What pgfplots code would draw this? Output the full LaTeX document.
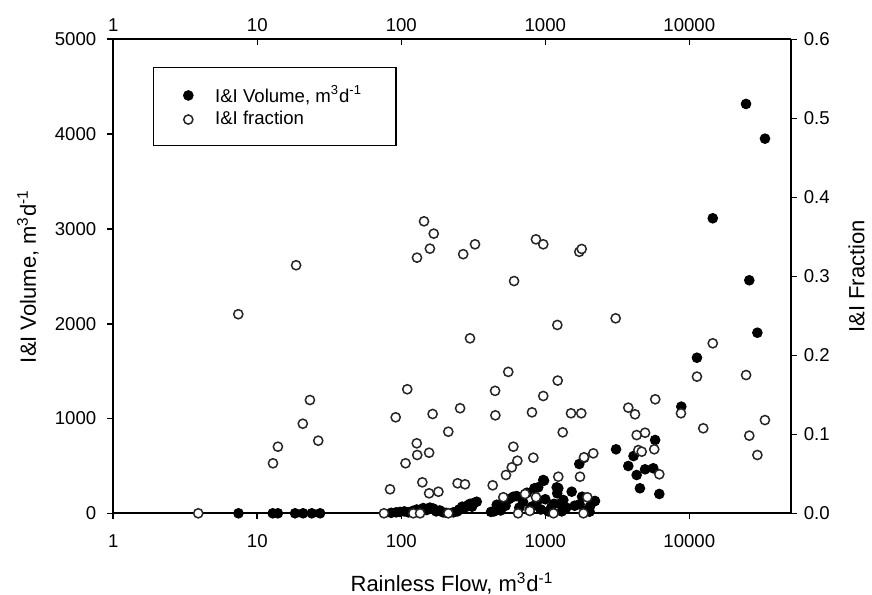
\documentclass[border=0pt]{standalone}
\usepackage{pgfplots}
\pgfplotsset{compat=1.18}
\usepackage{fontspec}
\setmainfont{Liberation Sans}

\pgfplotstableread{
x y
7.4 0
12.8 0
13.9 0
18.3 0
20.8 0
23.9 0
27.3 0
85 5
92 10
98 15
105 20
112 10
120 25
128 40
135 30
142 55
150 35
158 60
167 50
175 20
185 30
195 10
205 5
230 10
245 20
252 40
265 70
275 60
292 88
300 100
310 70
320 110
334 122
420 15
440 20
460 90
470 50
490 30
511 130
530 80
560 150
600 175
632 182
660 60
700 120
745 217
780 40
805 70
840 264
870 110
893 274
930 40
968 351
980 344
1000 148
1050 20
1100 60
1150 100
1200 274
1210 211
1231 264
1260 100
1300 20
1334 140
1400 60
1525 228
1600 80
1722 520
1730 95
1800 175
1860 585
1900 30
2030 17
2040 70
2154 122
2213 130
3100 675
3770 499
4100 604
4310 404
4540 264
4930 464
5620 475
5790 773
6190 204
8800 1125
11300 1641
14550 3112
24770 4318
26100 2458
29700 1905
33550 3952
}\volume

\pgfplotstableread{
x y
3.89 0
7.38 0.252
12.85 0.0633
13.9 0.0843
18.6 0.314
20.7 0.1134
23.2 0.1434
26.5 0.0919
75.8 0
83.5 0.0304
91.4 0.1215
107 0.0633
110 0.157
121 0
128 0.0886
128.5 0.3236
129 0.0738
135 0
140 0.0392
143.8 0.3696
156 0.0767
156 0.0253
158 0.335
165 0.1257
168 0.354
181 0.0273
212 0.1033
212 0
246 0.038
256 0.133
269 0.328
277 0.0367
300 0.2215
325 0.3405
431 0.0354
448 0.155
450 0.124
511 0.0203
533 0.0485
553 0.179
585 0.0582
600 0.0843
607 0.294
640 0.0666
647 0
723 0.0244
780 0.003
808 0.1278
826 0.0704
861 0.3468
862 0.0203
968 0.1485
968 0.3405
1140 0
1212 0.2384
1219 0.168
1231 0.0463
1321 0.1025
1508 0.1266
1722 0.331
1742 0.0463
1778 0.1266
1790 0.3346
1840 0
1857 0.0709
1958 0.0203
2154 0.0759
3080 0.2468
3770 0.1337
4197 0.1253
4310 0.099
4425 0.080
4670 0.078
4930 0.102
5710 0.081
5800 0.1443
6190 0.0494
8750 0.1266
11300 0.173
12500 0.1076
14550 0.2152
24800 0.175
26100 0.0983
29700 0.0738
33500 0.118
}\fraction

\begin{document}
\begin{tikzpicture}
% left axis: I&I volume
\begin{axis}[
  name=main,
  scale only axis, width=338.7pt, height=237pt,
  xmode=log, xmin=1, xmax=50600,
  xtick={1,10,100,1000,10000},
  xticklabels={1,10,100,1000,10000},
  xminorticks=false,
  axis line style={line width=1pt},
  major tick length=3pt,
  tick style={line width=0.8pt, black},
  tick label style={font=\fontsize{9.3}{11}\selectfont},
  label style={font=\fontsize{11}{13}\selectfont},
  axis x line*=bottom, axis y line*=left,
  tick align=outside,
  ymin=0, ymax=5000, ytick={0,1000,2000,3000,4000,5000},
  scaled y ticks=false,
  xticklabel style={yshift=-4pt},
  yticklabel style={xshift=-2pt, /pgf/number format/1000 sep={}, /pgf/number format/assume math mode=true},
  xlabel={Rainless Flow, m\textsuperscript{3}d\textsuperscript{-1}},
  ylabel={I\&I Volume, m\textsuperscript{3}d\textsuperscript{-1}},
  x label style={at={(axis description cs:0.5,-0.149)}, anchor=center},
  y label style={at={(axis description cs:-0.126,0.5)}, anchor=center},
  clip=false,
]
\addplot[only marks, mark=*, mark size=2.4pt,
  mark options={fill=black, draw=black, line width=0.5pt}]
  table[x=x, y=y] {\volume};
\end{axis}

% top x axis
\begin{axis}[
  scale only axis, width=338.7pt, height=237pt,
  xmode=log, xmin=1, xmax=50600,
  xtick={1,10,100,1000,10000},
  xticklabels={1,10,100,1000,10000},
  xminorticks=false,
  axis line style={line width=1pt},
  major tick length=3pt,
  tick style={line width=0.8pt, black},
  tick label style={font=\fontsize{9.3}{11}\selectfont},
  xticklabel style={yshift=0.5pt},
  axis x line*=top, axis y line=none,
  tick align=inside,
  ymin=0, ymax=1,
]
\end{axis}

% right axis: I&I fraction
\begin{axis}[
  scale only axis, width=338.7pt, height=237pt,
  xmode=log, xmin=1, xmax=50600,
  axis line style={line width=1pt},
  major tick length=3pt,
  tick style={line width=0.8pt, black},
  tick label style={font=\fontsize{9.3}{11}\selectfont},
  label style={font=\fontsize{11}{13}\selectfont},
  axis x line=none, axis y line*=right,
  tick align=outside,
  ymin=0, ymax=0.6, ytick={0,0.1,0.2,0.3,0.4,0.5,0.6},
  yticklabel style={/pgf/number format/fixed, /pgf/number format/fixed zerofill,
    /pgf/number format/precision=1, /pgf/number format/assume math mode=true},
  ylabel={I\&I Fraction},
  y label style={at={(axis description cs:1.097,0.5)}, anchor=center},
  legend style={at={(axis description cs:0.0585,0.9416)}, anchor=north west,
    draw=black, line width=0.6pt, fill=white,
    font=\fontsize{9.3}{11}\selectfont,
    inner xsep=15pt, inner ysep=7pt, row sep=-1pt, column sep=9pt},
  legend cell align=left,
  clip=false,
]
\addlegendimage{only marks, mark=*, mark size=2.4pt,
  mark options={fill=black, draw=black, line width=0.5pt}}
\addlegendentry{I\&I Volume, m\textsuperscript{3}d\textsuperscript{-1}}
\addplot[only marks, mark=*, mark size=2.3pt,
  mark options={fill=white, draw=black!85, line width=0.75pt}]
  table[x=x, y=y] {\fraction};
\addlegendentry{I\&I fraction}
\end{axis}

\pgfresetboundingbox
\useasboundingbox (main.south west) ++(-56.65pt,-40.35pt) rectangle ++(436pt,297pt);
\end{tikzpicture}
\end{document}
